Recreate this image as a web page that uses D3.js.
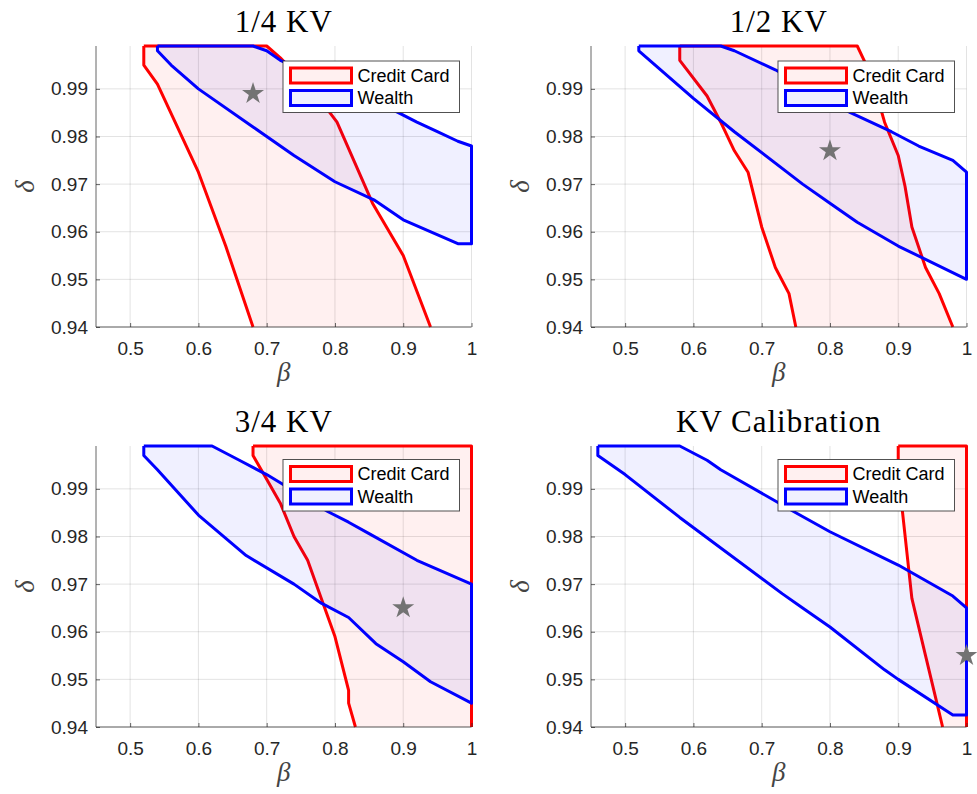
<!DOCTYPE html>
<html>
<head>
<meta charset="utf-8">
<script src="https://cdn.jsdelivr.net/npm/d3@7"></script>
<style>
  html, body { margin: 0; padding: 0; background: #fff; }
  svg { display: block; }
</style>
</head>
<body>
<svg id="chart" width="977" height="794"></svg>
<script>
// ---------- DATA ----------
const titles = ["1/4 KV", "1/2 KV", "3/4 KV", "KV Calibration"];
const seriesNames = ["Credit Card", "Wealth"];
const xTicks = [0.5, 0.6, 0.7, 0.8, 0.9, 1];
const xTickLabels = ["0.5", "0.6", "0.7", "0.8", "0.9", "1"];
const yTicks = [0.94, 0.95, 0.96, 0.97, 0.98, 0.99];
const yTickLabels = ["0.94", "0.95", "0.96", "0.97", "0.98", "0.99"];
const xDomain = [0.45, 1];
const yDomain = [0.94, 0.999];

// Credit Card regions [beta, delta]
const creditQuarter = [[0.52,0.999],[0.70,0.999],[0.72,0.9965],[0.76,0.9905],[0.79,0.9855],[0.803,0.983],[0.855,0.966],[0.90,0.955],[0.94,0.94],[0.68,0.94],[0.64,0.957],[0.60,0.9725],[0.54,0.991],[0.52,0.995]];
const creditHalf = [[0.58,0.999],[0.84,0.999],[0.85,0.996],[0.86,0.992],[0.87,0.988],[0.88,0.983],[0.90,0.976],[0.91,0.9695],[0.92,0.961],[0.94,0.9525],[0.96,0.947],[0.98,0.94],[0.75,0.94],[0.74,0.947],[0.72,0.9525],[0.70,0.961],[0.68,0.9725],[0.66,0.977],[0.64,0.983],[0.62,0.9885],[0.58,0.996]];
const creditThreeQuarter = [[0.68,0.999],[1.0,0.999],[1.0,0.94],[0.83,0.94],[0.82,0.945],[0.82,0.9477],[0.80,0.959],[0.78,0.967],[0.76,0.975],[0.74,0.980],[0.72,0.987],[0.70,0.992],[0.68,0.997]];
const creditKV = [[0.90,0.999],[1.0,0.999],[1.0,0.94],[0.965,0.94],[0.955,0.946],[0.94,0.955],[0.92,0.967],[0.906,0.9855],[0.90,0.995]];

// Wealth regions [beta, delta]
const wealthQuarter = [[0.54,0.999],[0.68,0.999],[0.70,0.998],[0.72,0.996],[0.80,0.991],[0.885,0.9856],[0.92,0.983],[0.95,0.981],[0.98,0.979],[1.0,0.978],[1.0,0.9575],[0.98,0.9575],[0.90,0.9625],[0.857,0.9667],[0.80,0.9705],[0.74,0.976],[0.68,0.982],[0.60,0.990],[0.56,0.995],[0.54,0.998]];
const wealthHalf = [[0.52,0.999],[0.64,0.999],[0.66,0.998],[0.72,0.994],[0.83,0.985],[0.89,0.981],[0.93,0.978],[0.98,0.975],[1.0,0.9725],[1.0,0.950],[0.90,0.957],[0.84,0.962],[0.80,0.966],[0.76,0.970],[0.66,0.981],[0.60,0.988],[0.52,0.998]];
const wealthThreeQuarter = [[0.52,0.999],[0.62,0.999],[0.66,0.996],[0.70,0.993],[0.79,0.9852],[0.82,0.983],[0.85,0.9806],[0.92,0.975],[1.0,0.970],[1.0,0.945],[0.94,0.9495],[0.90,0.9537],[0.86,0.9575],[0.82,0.963],[0.78,0.966],[0.74,0.970],[0.67,0.976],[0.60,0.9845],[0.54,0.994],[0.52,0.997]];
const wealthKV = [[0.46,0.999],[0.58,0.999],[0.62,0.996],[0.64,0.994],[0.75,0.985],[0.80,0.981],[0.90,0.974],[0.98,0.9675],[1.0,0.965],[1.0,0.9425],[0.98,0.9425],[0.90,0.950],[0.88,0.952],[0.80,0.961],[0.76,0.965],[0.73,0.968],[0.58,0.984],[0.50,0.993],[0.46,0.997]];

// Calibration points (stars) [beta, delta]
const starPoints = [[0.68,0.989],[0.80,0.977],[0.90,0.965],[1.0,0.955]];

const creditRegions = [creditQuarter, creditHalf, creditThreeQuarter, creditKV];
const wealthRegions = [wealthQuarter, wealthHalf, wealthThreeQuarter, wealthKV];

// ---------- LAYOUT ----------
const panelPos = [
  {left: 96, top: 46},
  {left: 591, top: 46},
  {left: 96, top: 446},
  {left: 591, top: 446}
];
const W = 375.5, H = 281;
const colors = ["#ff0000", "#0000ff"];
const axisColor = "#262626";

const svg = d3.select("#chart");

// split a closed polygon's outline into runs, dropping edges lying on the bottom of the axes
function outlineRuns(reg) {
  const n = reg.length;
  const runs = [];
  let cur = [];
  for (let k = 0; k < n; k++) {
    const a = reg[k], b = reg[(k + 1) % n];
    const onBottom = a[1] <= yDomain[0] && b[1] <= yDomain[0];
    if (onBottom) {
      if (cur.length) { runs.push(cur); cur = []; }
    } else {
      if (!cur.length) cur.push(a);
      cur.push(b);
    }
  }
  if (cur.length) runs.push(cur);
  return runs;
}

panelPos.forEach((p, i) => {
  const g = svg.append("g").attr("transform", `translate(${p.left},${p.top})`);
  const x = d3.scaleLinear().domain(xDomain).range([0, W]);
  const y = d3.scaleLinear().domain(yDomain).range([H, 0]);

  // grid
  g.append("g").selectAll("line").data(xTicks).join("line")
    .attr("x1", d => x(d)).attr("x2", d => x(d)).attr("y1", 0).attr("y2", H)
    .attr("stroke", axisColor).attr("stroke-opacity", 0.13).attr("stroke-width", 1);
  g.append("g").selectAll("line").data(yTicks).join("line")
    .attr("y1", d => y(d)).attr("y2", d => y(d)).attr("x1", 0).attr("x2", W)
    .attr("stroke", axisColor).attr("stroke-opacity", 0.13).attr("stroke-width", 1);

  const closed = d3.line().x(d => x(d[0])).y(d => y(d[1])).curve(d3.curveLinearClosed);
  const open = d3.line().x(d => x(d[0])).y(d => y(d[1]));

  // regions: credit card first, wealth on top
  [creditRegions[i], wealthRegions[i]].forEach((reg, s) => {
    g.append("path").attr("d", closed(reg))
      .attr("fill", colors[s]).attr("fill-opacity", 0.06).attr("stroke", "none");
    outlineRuns(reg).forEach(run => {
      g.append("path").attr("d", open(run))
        .attr("fill", "none")
        .attr("stroke", colors[s]).attr("stroke-width", 3)
        .attr("stroke-linejoin", "round");
    });
  });

  // axes
  const xAxis = d3.axisBottom(x).tickValues(xTicks).tickFormat((d, k) => xTickLabels[k])
    .tickSizeInner(-4).tickSizeOuter(0).tickPadding(10);
  const yAxis = d3.axisLeft(y).tickValues(yTicks).tickFormat((d, k) => yTickLabels[k])
    .tickSizeInner(-4).tickSizeOuter(0).tickPadding(8);

  const gx = g.append("g").attr("transform", `translate(0,${H})`).call(xAxis);
  const gy = g.append("g").call(yAxis);
  [gx, gy].forEach(a => {
    a.select(".domain").remove();
    a.selectAll(".tick line").attr("stroke", axisColor).attr("stroke-opacity", 0.7);
    a.selectAll(".tick text").attr("fill", axisColor)
      .style("font-family", "'Liberation Sans', Arial, Helvetica, sans-serif")
      .style("font-size", "19px");
  });
  gx.selectAll(".tick text").attr("dy", "0.95em");
  g.append("line").attr("x1", 0).attr("x2", W).attr("y1", H).attr("y2", H)
    .attr("stroke", axisColor).attr("stroke-opacity", 0.7).attr("stroke-width", 1);
  g.append("line").attr("x1", 0).attr("x2", 0).attr("y1", 0).attr("y2", H)
    .attr("stroke", axisColor).attr("stroke-opacity", 0.7).attr("stroke-width", 1);

  // star
  g.append("path")
    .attr("d", d3.symbol().type(d3.symbolStar).size(150)())
    .attr("transform", `translate(${x(starPoints[i][0])},${y(starPoints[i][1])})`)
    .attr("fill", "#737373");

  // title
  g.append("text").attr("x", W / 2).attr("y", -14)
    .attr("text-anchor", "middle")
    .style("font-family", "'Liberation Serif', 'Times New Roman', serif")
    .style("font-size", "31px").style("letter-spacing", "1px")
    .attr("fill", "#000").text(titles[i]);

  // axis labels
  g.append("text").attr("x", W / 2).attr("y", H + 54)
    .attr("text-anchor", "middle")
    .style("font-family", "'Liberation Serif', 'Times New Roman', serif")
    .style("font-style", "italic").style("font-size", "27px")
    .attr("fill", "#444").text("β");
  g.append("text")
    .attr("transform", `translate(${-62},${H / 2}) rotate(-90)`)
    .attr("text-anchor", "middle")
    .style("font-family", "'Liberation Serif', 'Times New Roman', serif")
    .style("font-style", "italic").style("font-size", "27px")
    .attr("fill", "#444").text("δ");

  // legend
  const lgW = 176.5, lgH = 51.5;
  const lg = g.append("g").attr("transform", `translate(${W - 12 - lgW},${i < 2 ? 15 : 13.5})`);
  lg.append("rect").attr("width", lgW).attr("height", lgH)
    .attr("fill", "#fff").attr("stroke", axisColor).attr("stroke-opacity", 0.8).attr("stroke-width", 1);
  seriesNames.forEach((name, s) => {
    const cy = 14.5 + s * 22.5;
    lg.append("rect").attr("x", 7.5).attr("y", cy - 7.5).attr("width", 61).attr("height", 15)
      .attr("fill", colors[s]).attr("fill-opacity", 0.06)
      .attr("stroke", colors[s]).attr("stroke-width", 3);
    lg.append("text").attr("x", 74.5).attr("y", cy).attr("dy", "0.36em")
      .style("font-family", "'Liberation Sans', Arial, Helvetica, sans-serif")
      .style("font-size", "18px").attr("fill", "#000").text(name);
  });
});
</script>
</body>
</html>
